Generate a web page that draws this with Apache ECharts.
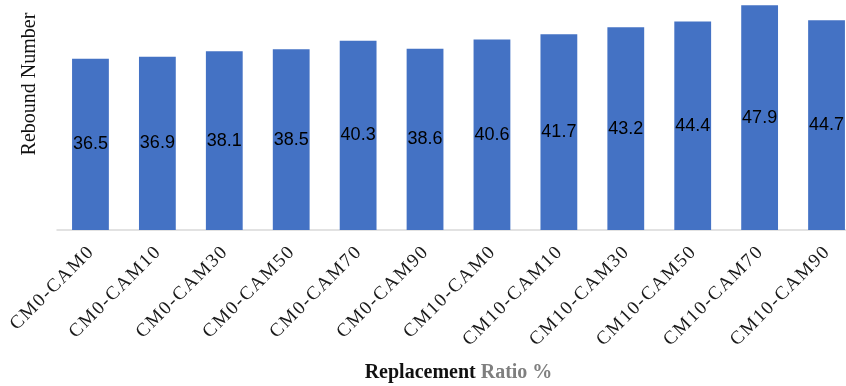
<!DOCTYPE html>
<html>
<head>
<meta charset="utf-8">
<script src="https://cdn.jsdelivr.net/npm/echarts@6/dist/echarts.min.js"></script>
<style>
  html, body { margin: 0; padding: 0; background: #fff; }
  #chart { width: 846px; height: 386px; }
</style>
</head>
<body>
<div id="chart"></div>
<script>
// Mix designations (cement / CAM replacement levels)
const categories = [
  'CM0-CAM0', 'CM0-CAM10', 'CM0-CAM30', 'CM0-CAM50', 'CM0-CAM70', 'CM0-CAM90',
  'CM10-CAM0', 'CM10-CAM10', 'CM10-CAM30', 'CM10-CAM50', 'CM10-CAM70', 'CM10-CAM90'
];
// Rebound hammer readings
const reboundValues = [36.5, 36.9, 38.1, 38.5, 40.3, 38.6, 40.6, 41.7, 43.2, 44.4, 47.9, 44.7];

const chart = echarts.init(document.getElementById('chart'), null, { renderer: 'canvas' });

// open up the category labels slightly with hair spaces between glyphs
const spaced = s => s.split('').join('\u200A');

chart.setOption({
  animation: false,
  grid: { left: 57, right: -14, top: 0, bottom: 156, containLabel: false, outerBoundsMode: 'none' },
  xAxis: {
    type: 'category',
    data: categories,
    axisLine: { show: true, lineStyle: { color: '#d9d9d9', width: 1.5 } },
    axisTick: { show: false },
    axisLabel: {
      rotate: 45,
      margin: 20,
      interval: 0,
      formatter: spaced,
      fontFamily: '"Liberation Serif", "Times New Roman", serif',
      fontSize: 19,
      color: '#1a1a1a'
    },
    name: '{a|Replacement} {b|Ratio %}',
    nameLocation: 'middle',
    nameGap: 133,
    nameTextStyle: {
      fontFamily: '"Liberation Serif", serif',
      fontWeight: 'bold',
      fontSize: 20,
      rich: {
        a: { fontFamily: '"Liberation Serif", serif', fontWeight: 'bold', fontSize: 20, color: '#111' },
        b: { fontFamily: '"Liberation Serif", serif', fontWeight: 'bold', fontSize: 20, color: '#7f7f7f' }
      }
    }
  },
  yAxis: {
    type: 'value',
    min: 0,
    max: 49,
    show: true,
    axisLine: { show: false },
    axisTick: { show: false },
    axisLabel: { show: false },
    splitLine: { show: false },
    name: 'Rebound Number',
    nameLocation: 'middle',
    nameGap: 17,
    nameTextStyle: {
      fontFamily: '"Liberation Serif", "Times New Roman", serif',
      fontSize: 20,
      color: '#111',
      padding: [0, 0, 0, 62]
    }
  },
  series: [{
    type: 'bar',
    data: reboundValues,
    barWidth: '55%',
    itemStyle: { color: '#4472c4' },
    label: {
      show: true,
      position: 'inside',
      fontFamily: '"Liberation Sans", Arial, sans-serif',
      fontSize: 18,
      color: '#000'
    }
  }]
});
</script>
</body>
</html>
